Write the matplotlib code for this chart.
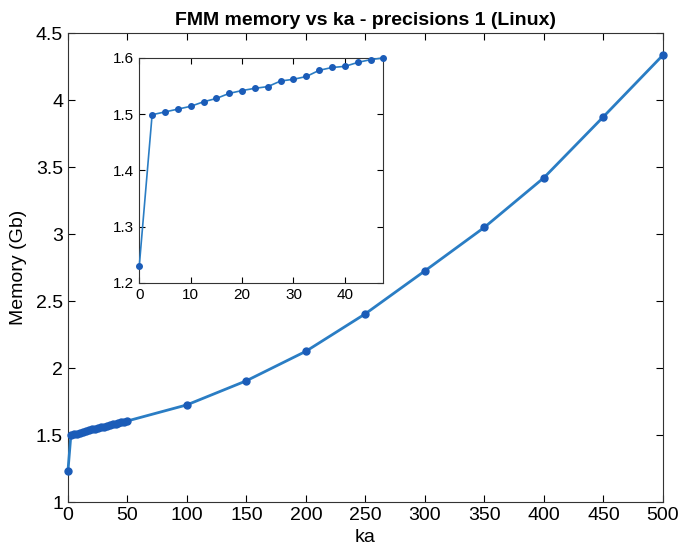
import matplotlib.pyplot as plt

plt.rcParams["font.family"] = ["Liberation Sans", "DejaVu Sans"]

# inset data (small ka)
ka_small = [0, 2.5, 5, 7.5, 10, 12.5, 15, 17.5, 20, 22.5, 25, 27.5, 30, 32.5,
            35, 37.5, 40, 42.5, 45, 47.5]
mem_small = [1.23, 1.499, 1.504, 1.509, 1.514, 1.522, 1.528, 1.537, 1.542, 1.546,
             1.549, 1.559, 1.562, 1.567, 1.578, 1.583, 1.585, 1.592, 1.597, 1.600]

# larger ka
ka_large = [50, 100, 150, 200, 250, 300, 350, 400, 450, 500]
mem_large = [1.605, 1.725, 1.905, 2.125, 2.405, 2.725, 3.05, 3.42, 3.875, 4.335]

ka_all = ka_small + ka_large
mem_all = mem_small + mem_large

line_col = "#2a7dc4"
mark_col = "#1b5cb8"

fig = plt.figure(figsize=(6.86, 5.57), dpi=100)
ax = fig.add_axes([0.099, 0.0987, 0.8673, 0.842])
ax.plot(ka_all, mem_all, "-o", color=line_col, lw=2, ms=5,
        mfc=mark_col, mec=mark_col, clip_on=False, zorder=3)
ax.set_xlim(0, 500)
ax.set_ylim(1, 4.5)
ax.set_xticks(range(0, 501, 50))
ax.set_yticks([1, 1.5, 2, 2.5, 3, 3.5, 4, 4.5])
ax.set_yticklabels(["1", "1.5", "2", "2.5", "3", "3.5", "4", "4.5"])
ax.tick_params(direction="in", top=True, right=True, labelsize=14, length=5)
ax.set_xlabel("ka", fontsize=14, labelpad=4)
ax.set_ylabel("Memory (Gb)", fontsize=14, labelpad=6)
ax.set_title("FMM memory vs ka - precisions 1 (Linux)", fontsize=14,
             fontweight="bold", pad=6)
for s in ax.spines.values():
    s.set_color("#333333")

# inset
axi = fig.add_axes([0.203, 0.492, 0.356, 0.404])
axi.plot(ka_small, mem_small, "-o", color=line_col, lw=1.2, ms=4,
         mfc=mark_col, mec=mark_col, clip_on=False, zorder=3)
axi.set_xlim(0, 47.5)
axi.set_ylim(1.2, 1.6)
axi.set_xticks([0, 10, 20, 30, 40])
axi.set_yticks([1.2, 1.3, 1.4, 1.5, 1.6])
axi.tick_params(direction="in", top=True, right=True, labelsize=11, length=4)
for s in axi.spines.values():
    s.set_color("#333333")

plt.savefig("out.png", dpi=100)
